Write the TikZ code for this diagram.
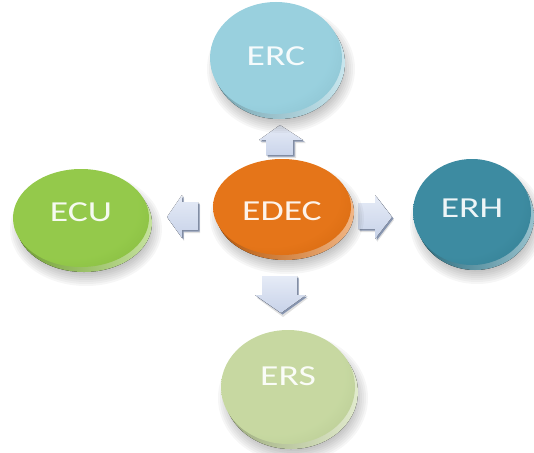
\documentclass[tikz,border=0pt]{standalone}
\usepackage{fontspec}
\setmainfont{Carlito}
\usepackage{graphicx}
\usetikzlibrary{shapes.geometric}
\definecolor{cERC}{HTML}{92CDDC}
\definecolor{cECU}{HTML}{8DC63F}
\definecolor{cEDEC}{HTML}{E36C0A}
\definecolor{cERH}{HTML}{31849B}
\definecolor{cERS}{HTML}{C3D69B}
\definecolor{arrLight}{HTML}{D5DEF1}
\definecolor{arrDark}{HTML}{9FAFCF}
\colorlet{dtop}{white}
\colorlet{dedge}{black}
\pgfdeclareradialshading[dtop,dedge]{discshade}{\pgfpoint{-8bp}{8bp}}{color(0bp)=(dtop); color(26bp)=(dtop); color(48bp)=(dedge); color(70bp)=(dedge)}
\tikzset{
  disc/.style={ellipse, inner sep=0pt, shading=discshade,
    font=\fontsize{29}{29}\selectfont, text height=28pt, text depth=28pt},
  arrshadow/.style={fill=black, opacity=0.12},
  arrbevel/.style={fill=arrDark!85!black},
}
\newcommand\mkdisc[8]{%
  \foreach \k in {0,...,7} {\fill[black,opacity=0.035] (#2+5,#3+11) ellipse [x radius=#4-6+2*\k, y radius=#5-6+2*\k];}
  \fill[left color=#6!80!black, right color=#6!50!white] (#2+3,#3+5) ellipse [x radius=#4, y radius=#5];
  \colorlet{dtop}{#6!94!white}\colorlet{dedge}{#6!88!black}
  \node[disc, minimum width=2*#4, minimum height=2*#5, text=white!92!#6] (#1) at (#2,#3) {\raisebox{#8}{\scalebox{1.3}[1]{#7}}};
}
\begin{document}
\begin{tikzpicture}[x=1pt,y=-1pt]
\useasboundingbox (0,0) rectangle (534,452);
% block arrows
% up
\fill[arrshadow] (282,128) -- (306,143) -- (296,143) -- (296,158) -- (268,158) -- (268,143) -- (261,143) -- cycle;
\fill[arrbevel] (281,126.5) -- (304.5,141.5) -- (294.5,141.5) -- (294.5,156.5) -- (267.5,156.5) -- (267.5,141.5) -- (260.5,141.5) -- cycle;
\fill[top color=arrLight!60!white, bottom color=arrLight!80!arrDark] (280,125) -- (303,140) -- (293,140) -- (293,155) -- (266,155) -- (266,140) -- (259,140) -- cycle;
% left
\fill[arrshadow] (169,220) -- (184,198) -- (184,205) -- (200,205) -- (200,233) -- (184,233) -- (184,241) -- cycle;
\fill[arrbevel] (168,218.5) -- (183.5,196.5) -- (183.5,203.5) -- (199.5,203.5) -- (199.5,231.5) -- (183.5,231.5) -- (183.5,239.5) -- cycle;
\fill[top color=arrLight!60!white, bottom color=arrLight!75!arrDark] (167,217) -- (182,195) -- (182,202) -- (198,202) -- (198,230) -- (182,230) -- (182,238) -- cycle;
% right
\fill[arrshadow] (360,206) -- (377,206) -- (377,198) -- (394,220) -- (377,242) -- (377,232) -- (360,232) -- cycle;
\fill[arrbevel] (359.5,204.5) -- (376.5,204.5) -- (376.5,196.5) -- (393.5,218.5) -- (376.5,240.5) -- (376.5,230.5) -- (359.5,230.5) -- cycle;
\fill[top color=arrLight!60!white, bottom color=arrLight!75!arrDark] (358,203) -- (375,203) -- (375,195) -- (392,217) -- (375,239) -- (375,229) -- (358,229) -- cycle;
% down
\fill[arrshadow] (264,279) -- (299,279) -- (299,298) -- (308,298) -- (283,317) -- (257,298) -- (264,298) -- cycle;
\fill[arrbevel] (263.5,277.5) -- (298.5,277.5) -- (298.5,296.5) -- (307.5,296.5) -- (282.5,314.5) -- (256.5,296.5) -- (263.5,296.5) -- cycle;
\fill[top color=arrLight!60!white, bottom color=arrLight!75!arrDark] (262,276) -- (297,276) -- (297,295) -- (306,295) -- (281,313) -- (255,295) -- (262,295) -- cycle;
% discs
\mkdisc{erc}{276}{58}{66}{56}{cERC}{ERC}{-7.3pt}
\mkdisc{ecu}{81}{218}{68}{49}{cECU}{ECU}{-3.3pt}
\mkdisc{edec}{282}{207}{69}{48}{cEDEC}{EDEC}{-13.3pt}
\mkdisc{erh}{472}{212}{59}{53}{cERH}{ERH}{-5.3pt}
\mkdisc{ers}{288}{387}{67}{57}{cERS}{ERS}{1.7pt}
\end{tikzpicture}
\end{document}
